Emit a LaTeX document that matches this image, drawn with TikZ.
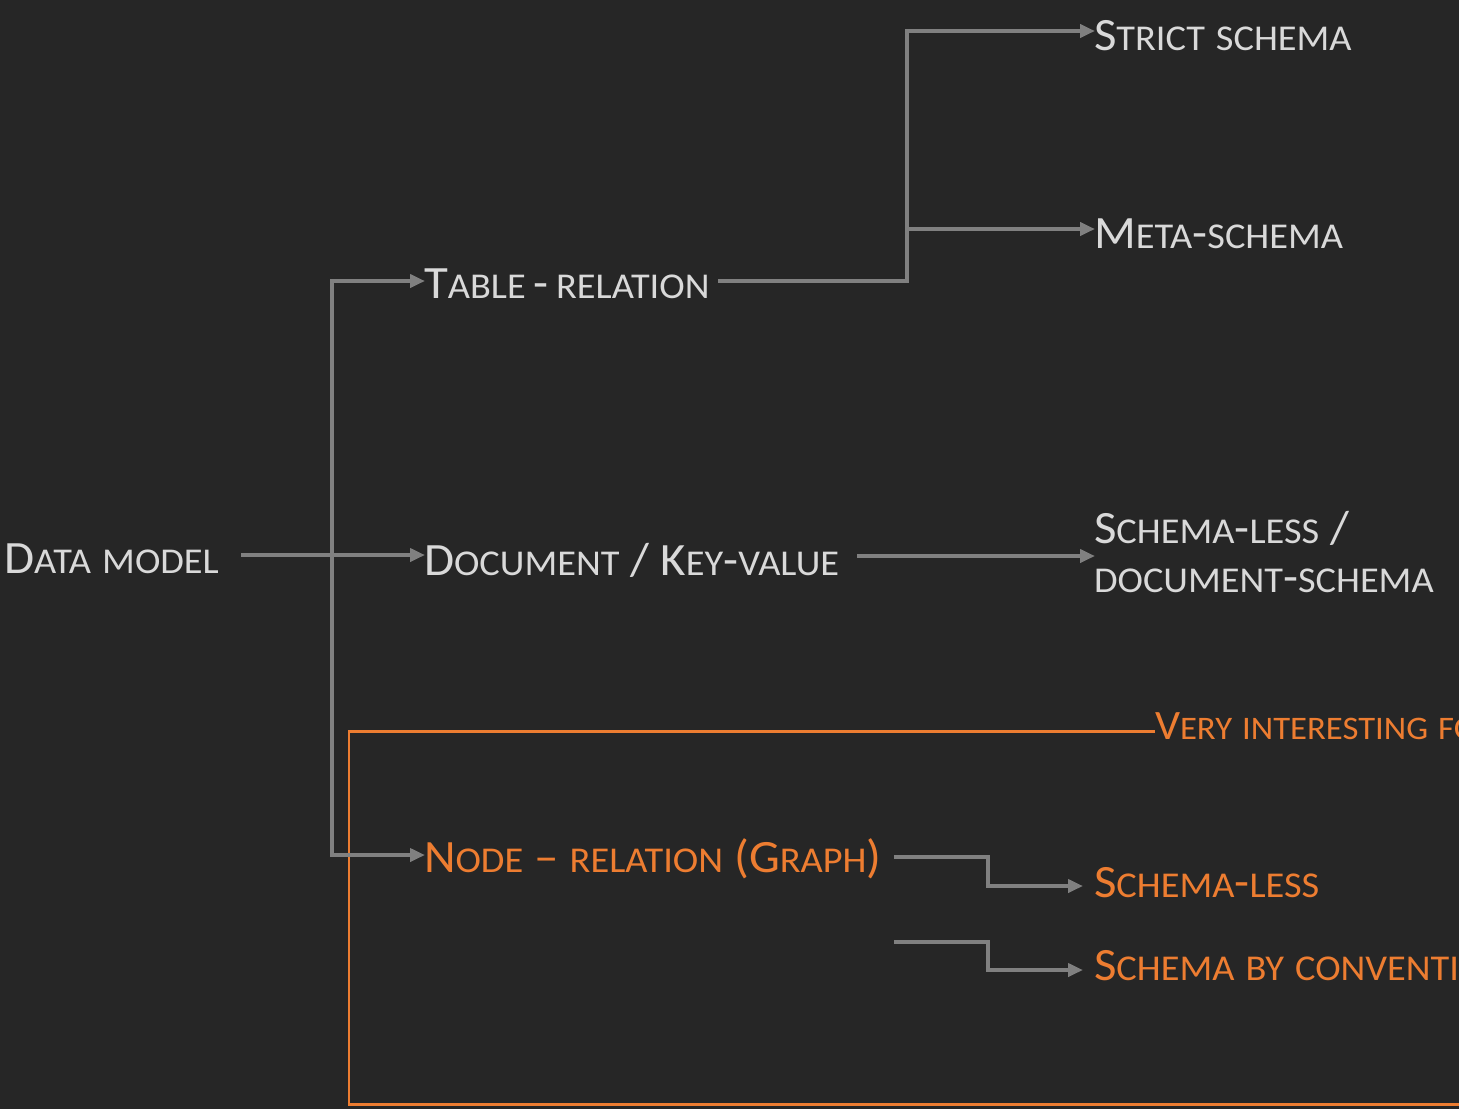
\documentclass[tikz,border=0pt]{standalone}
\usepackage{fontspec}
\setmainfont{Carlito}[FakeStretch=1.055]
\usetikzlibrary{arrows.meta}
\definecolor{bg}{HTML}{262626}
\definecolor{txt}{HTML}{D9D9D9}
\definecolor{ln}{HTML}{808080}
\definecolor{org}{HTML}{ED7D31}
\newcommand{\lc}[1]{{\fontsize{36.5}{44}\selectfont #1}}
\newcommand{\lcs}[1]{{\fontsize{33}{40}\selectfont #1}}
\tikzset{
  lbl/.style={anchor=base west, inner sep=0pt, outer sep=0pt, text=txt, font=\fontsize{46.5}{56}\selectfont},
  olbl/.style={lbl, text=org},
  slbl/.style={olbl, font=\fontsize{42}{50}\selectfont},
  conn/.style={draw=ln, line width=4bp, line join=miter},
  arr/.style={conn, -{Triangle[length=15bp,width=13bp]}},
  obox/.style={draw=org, line width=2.6bp}
}
\begin{document}
\begin{tikzpicture}[x=1bp,y=-1bp]
\useasboundingbox[fill=bg] (0,0) rectangle (1459,1109);
\clip (0,0) rectangle (1459,1109);

% text nodes
\node[lbl]  (dm)     at (4,573)    {D\lc{ATA} \lc{MODEL}};
\node[lbl]  (tab)    at (424,298)  {T\lc{ABLE}\,-\,\lc{RELATION}};
\node[lbl]  (doc)    at (424,575)  {D\lc{OCUMENT} / K\lc{EY}-\lc{VALUE}};
\node[olbl] (grp)    at (424,872)  {N\lc{ODE} – \lc{RELATION} (G\lc{RAPH})};
\node[lbl]  (strict) at (1094,50)  {S\lc{TRICT} \lc{SCHEMA}};
\node[lbl]  (meta)   at (1094,248) {M\lc{ETA}-\lc{SCHEMA}};
\node[lbl]  (sl1)    at (1094,543) {S\lc{CHEMA}-\lc{LESS} /};
\node[lbl]  (sl2)    at (1094,592) {\lc{DOCUMENT}-\lc{SCHEMA}};
\node[slbl] (very)   at (1155,739) {V\lcs{ERY} \lcs{INTERESTING} \lcs{FOR}};
\node[olbl] (gsl)    at (1094,897) {S\lc{CHEMA}-\lc{LESS}};
\node[olbl] (gsc)    at (1094,980) {S\lc{CHEMA} \lc{BY} \lc{CONVENTION}};

% connector coordinates
\coordinate (dmOut)   at (241,555);
\coordinate (trunk)   at (332,555);
\coordinate (tabIn)   at (425,281);
\coordinate (docIn)   at (425,555);
\coordinate (grpIn)   at (425,855);
\coordinate (tabOut)  at (718,281);
\coordinate (split)   at (907,281);
\coordinate (strictIn) at (1095,31);
\coordinate (metaIn)  at (1095,229);
\coordinate (metaJ)   at (907,229);
\coordinate (docOut)  at (857,556);
\coordinate (slIn)    at (1095,556);
\coordinate (grpOut1) at (894,857);
\coordinate (grpJ1)   at (988,857);
\coordinate (gslIn)   at (1083,886);
\coordinate (grpOut2) at (894,942);
\coordinate (grpJ2)   at (988,942);
\coordinate (gscIn)   at (1083,970);

% orange frame
\coordinate (boxA) at (1155,731.5);
\coordinate (boxB) at (349,731.5);
\coordinate (boxC) at (349,1104.5);
\coordinate (boxD) at (1475,1104.5);
\draw[obox] (boxA) -- (boxB) -- (boxC) -- (boxD);

% gray connectors
\draw[arr] (dmOut) -- (docIn);
\draw[arr] (trunk) |- (tabIn);
\draw[arr] (trunk) |- (grpIn);
\draw[arr] (tabOut) -- (split) |- (strictIn);
\draw[arr] (metaJ) -- (metaIn);
\draw[arr] (docOut) -- (slIn);
\draw[arr] (grpOut1) -- (grpJ1) |- (gslIn);
\draw[arr] (grpOut2) -- (grpJ2) |- (gscIn);
\end{tikzpicture}
\end{document}
